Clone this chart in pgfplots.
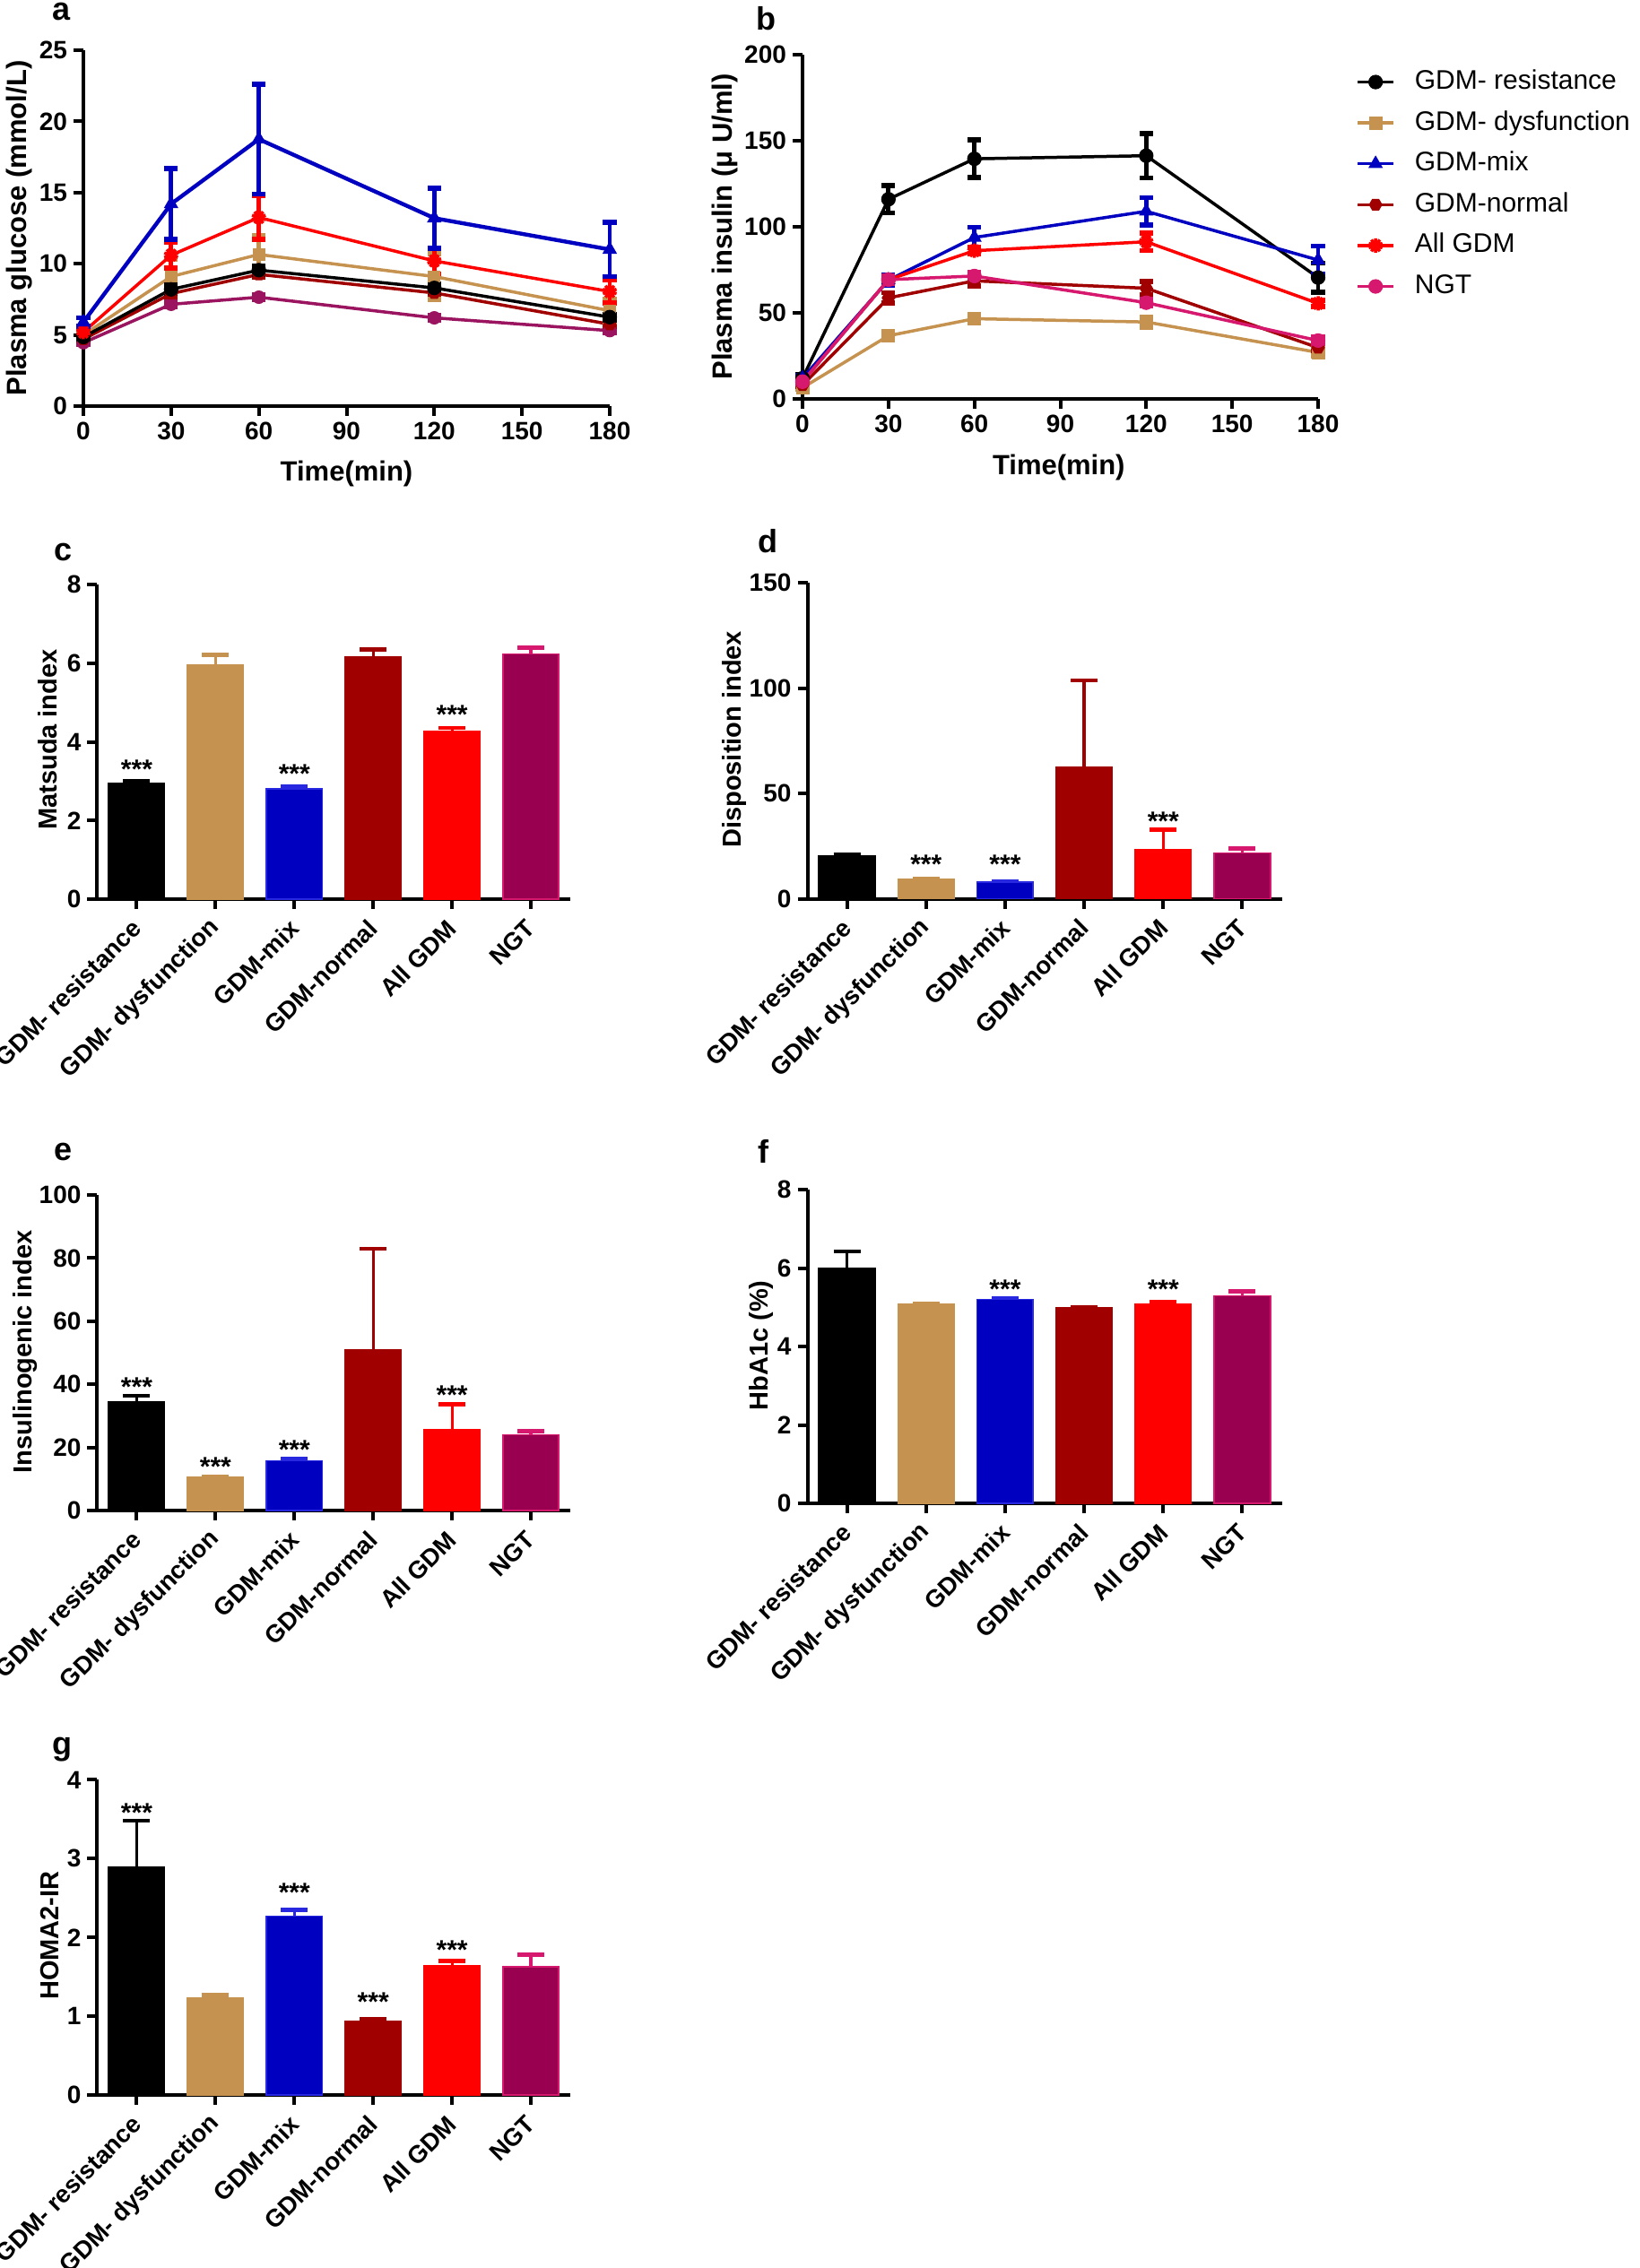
\documentclass[border=0pt]{standalone}
\usepackage{fontspec}
\setmainfont{Liberation Sans}
\usepackage{pgfplots}
\pgfplotsset{compat=1.18}

\definecolor{ctan}{RGB}{197,146,80}
\definecolor{cblue}{RGB}{0,0,192}
\definecolor{cblueedge}{RGB}{40,40,225}
\definecolor{cdred}{RGB}{160,0,0}
\definecolor{cred}{RGB}{255,0,0}
\definecolor{cngt}{RGB}{153,0,80}
\definecolor{cngtedge}{RGB}{214,24,110}
\definecolor{cngta}{RGB}{155,20,95}
\definecolor{cpink}{RGB}{214,24,110}

\pgfdeclareplotmark{hexagon*}{%
  \pgfpathmoveto{\pgfqpointpolar{0}{\pgfplotmarksize}}%
  \pgfpathlineto{\pgfqpointpolar{60}{\pgfplotmarksize}}%
  \pgfpathlineto{\pgfqpointpolar{120}{\pgfplotmarksize}}%
  \pgfpathlineto{\pgfqpointpolar{180}{\pgfplotmarksize}}%
  \pgfpathlineto{\pgfqpointpolar{240}{\pgfplotmarksize}}%
  \pgfpathlineto{\pgfqpointpolar{300}{\pgfplotmarksize}}%
  \pgfpathclose\pgfusepathqfillstroke}

\newcommand\tickfont{\fontsize{14}{16}\selectfont\bfseries}
\newcommand\ttlA{\fontsize{15.5}{18}\selectfont\bfseries}
\newcommand\ttlB{\fontsize{14.5}{17}\selectfont\bfseries}
\newcommand\catfont{\fontsize{13.75}{16}\selectfont\bfseries}
\newcommand\legfont{\fontsize{15}{18}\selectfont}
\newcommand\starfont{\fontsize{15}{17}\selectfont\bfseries}
\newcommand\pfont{\fontsize{18}{20}\selectfont\bfseries}

\pgfplotsset{
  base/.style={scale only axis, anchor=south west,
    axis x line*=bottom, axis y line*=left,
    axis line style={line width=2pt,-},
    every tick/.style={line width=2pt, black},
    major tick length=5.5pt, tick align=outside,
    tick label style={font=\tickfont},
    /pgf/number format/assume math mode=true,
    clip=false},
  linep/.style={base, xmin=0, xmax=180, xtick={0,30,...,180}, ymin=0,
    label style={font=\ttlA},
    every axis plot/.append style={line width=1.75pt, mark options={line width=0.5pt, solid}},
    error bars/y dir=both, error bars/y explicit,
    error bars/error bar style={line width=2.4pt},
    error bars/error mark options={line width=2.8pt, mark size=3.8pt, rotate=90}},
  barp/.style={base, xmin=-0.5, xmax=5.5, xtick={0,...,5},
    xticklabels={GDM- resistance, GDM- dysfunction, GDM-mix, GDM-normal, All GDM, NGT},
    xticklabel style={xshift=2.5pt, yshift=-6pt, rotate=45, anchor=east, font=\catfont},
    ymin=0, label style={font=\ttlB}},
}

\newcommand\mybar[5]{\addplot[ybar, bar width=0.71, bar shift=0pt, fill=#4, draw=#5, line width=0.8pt,
  error bars/.cd, y dir=plus, y explicit,
  error bar style={line width=1.6pt, color=#5},
  error mark options={line width=2.2pt, mark size=7.5pt, color=#5, rotate=90}]
  coordinates {(#1,#2) +- (0,#3)};}

\begin{document}
\begin{tikzpicture}
\path[use as bounding box] (0,0) rectangle (914pt,-1265pt);

% ---------- panel a ----------
\begin{axis}[linep, at={(46.5pt,-226.5pt)}, width=293.5pt, height=198.5pt,
  ymax=25, ytick={0,5,...,25},
  ylabel={Plasma glucose (mmol/L)}, ylabel style={at={(rel axis cs:-0.121,0.5)}, anchor=center},
  xlabel={Time(min)}, xlabel style={at={(rel axis cs:0.5,-0.189)}, anchor=center}]
\addplot[cngta, mark=*, mark size=3.5pt] coordinates {(0,4.45) +- (0,0.1) (30,7.15) +- (0,0.15) (60,7.65) +- (0,0.15) (120,6.2) +- (0,0.15) (180,5.3) +- (0,0.15)};
\addplot[cdred, mark=hexagon*, mark size=3.5pt] coordinates {(0,4.7) +- (0,0.1) (30,7.9) +- (0,0.2) (60,9.25) +- (0,0.2) (120,7.95) +- (0,0.2) (180,5.75) +- (0,0.15)};
\addplot[ctan, mark=square*, mark size=3.2pt] coordinates {(0,5.0) +- (0,0.2) (30,9.1) +- (0,1.2) (60,10.65) +- (0,1.3) (120,9.1) +- (0,1.6) (180,6.7) +- (0,0.8)};
\addplot[black, mark=*, mark size=3.8pt] coordinates {(0,4.85) +- (0,0.15) (30,8.2) +- (0,0.3) (60,9.55) +- (0,0.3) (120,8.3) +- (0,0.3) (180,6.25) +- (0,0.2)};
\addplot[cred, mark=10-pointed star, mark size=4pt, mark options={fill=cred}] coordinates {(0,5.2) +- (0,0.2) (30,10.6) +- (0,0.9) (60,13.25) +- (0,1.55) (120,10.2) +- (0,0.9) (180,8.05) +- (0,0.8)};
\addplot[cblue, line width=2.2pt, mark=triangle*, mark size=4.2pt] coordinates {(0,5.9) +- (0,0.3) (30,14.2) +- (0,2.5) (60,18.75) +- (0,3.85) (120,13.2) +- (0,2.1) (180,11.0) +- (0,1.9)};
\end{axis}

% ---------- panel b ----------
\begin{axis}[linep, at={(447.5pt,-222.5pt)}, width=287.5pt, height=192pt,
  ymax=200, ytick={0,50,...,200},
  ylabel={Plasma insulin (μ U/ml)}, ylabel style={at={(rel axis cs:-0.151,0.5)}, anchor=center},
  xlabel={Time(min)}, xlabel style={at={(rel axis cs:0.497,-0.198)}, anchor=center},
  legend style={at={(rel axis cs:1.073,0.958)}, anchor=north west, draw=none, fill=none,
    font=\legfont, inner sep=0pt, row sep=8.8pt, column sep=11pt,
    nodes={inner sep=0pt, text height=11pt, text depth=3pt}},
  legend cell align=left,
  legend image code/.code={\draw[mark repeat=2, mark phase=2] plot coordinates {(0pt,0pt)(10pt,0pt)(20pt,0pt)};}]
\addplot[black, mark=*, mark size=3.8pt] coordinates {(0,12) +- (0,2) (30,116) +- (0,8) (60,139.5) +- (0,11) (120,141.3) +- (0,13) (180,70.5) +- (0,8.5)};
\addplot[ctan, mark=square*, mark size=3.5pt] coordinates {(0,6.5) +- (0,1) (30,36.7) +- (0,2) (60,46.6) +- (0,2.5) (120,44.7) +- (0,3) (180,27) +- (0,2)};
\addplot[cblue, mark=triangle*, mark size=4.2pt] coordinates {(0,12) +- (0,1.5) (30,69) +- (0,3) (60,93.8) +- (0,6) (120,109) +- (0,8) (180,80.7) +- (0,8)};
\addplot[cdred, mark=hexagon*, mark size=3.5pt] coordinates {(0,8) +- (0,1) (30,58.7) +- (0,3) (60,68.6) +- (0,3) (120,64.3) +- (0,4) (180,29.8) +- (0,2)};
\addplot[cred, mark=10-pointed star, mark size=4pt, mark options={fill=cred}] coordinates {(0,10) +- (0,1) (30,69.3) +- (0,2) (60,86.1) +- (0,2) (120,91.3) +- (0,5) (180,55.5) +- (0,2)};
\addplot[cpink, mark=*, mark size=3.8pt] coordinates {(0,10) +- (0,1) (30,69.3) +- (0,2) (60,71.4) +- (0,2) (120,55.9) +- (0,2) (180,33.9) +- (0,2)};
\legend{GDM- resistance, GDM- dysfunction, GDM-mix, GDM-normal, All GDM, NGT}
\end{axis}

% ---------- panel c ----------
\begin{axis}[barp, at={(54.25pt,-501.5pt)}, width=263.75pt, height=175.5pt,
  ymax=8, ytick={0,2,...,8},
  ylabel={Matsuda index}, ylabel style={at={(rel axis cs:-0.105,0.507)}, anchor=center}]
\mybar{0}{2.94}{0.06}{black}{black}
\mybar{1}{5.95}{0.26}{ctan}{ctan}
\mybar{2}{2.81}{0.06}{cblue}{cblueedge}
\mybar{3}{6.15}{0.20}{cdred}{cdred}
\mybar{4}{4.26}{0.10}{cred}{cred}
\mybar{5}{6.23}{0.16}{cngt}{cngtedge}
\node[font=\starfont] at (axis cs:0,3.30) {***};
\node[font=\starfont] at (axis cs:2,3.19) {***};
\node[font=\starfont] at (axis cs:4,4.69) {***};
\end{axis}

% ---------- panel d ----------
\begin{axis}[barp, at={(450.25pt,-501.25pt)}, width=264.5pt, height=176.25pt,
  ymax=150, ytick={0,50,100,150},
  ylabel={Disposition index}, ylabel style={at={(rel axis cs:-0.154,0.504)}, anchor=center}]
\mybar{0}{20.1}{0.7}{black}{black}
\mybar{1}{9.1}{0.2}{ctan}{ctan}
\mybar{2}{7.9}{0.5}{cblue}{cblueedge}
\mybar{3}{62.3}{41.3}{cdred}{cdred}
\mybar{4}{23.1}{9.6}{cred}{cred}
\mybar{5}{21.7}{2.2}{cngt}{cngtedge}
\node[font=\starfont] at (axis cs:1,16.4) {***};
\node[font=\starfont] at (axis cs:2,16.4) {***};
\node[font=\starfont] at (axis cs:4,36.8) {***};
\end{axis}

% ---------- panel e ----------
\begin{axis}[barp, at={(54.25pt,-842.5pt)}, width=263.75pt, height=176pt,
  ymax=100, ytick={0,20,...,100},
  ylabel={Insulinogenic index}, ylabel style={at={(rel axis cs:-0.153,0.503)}, anchor=center}]
\mybar{0}{34.5}{1.8}{black}{black}
\mybar{1}{10.7}{0.1}{ctan}{ctan}
\mybar{2}{15.8}{0.7}{cblue}{cblueedge}
\mybar{3}{50.8}{32.1}{cdred}{cdred}
\mybar{4}{25.7}{8.0}{cred}{cred}
\mybar{5}{24.0}{1.2}{cngt}{cngtedge}
\node[font=\starfont] at (axis cs:0,39.1) {***};
\node[font=\starfont] at (axis cs:1,14.0) {***};
\node[font=\starfont] at (axis cs:2,19.3) {***};
\node[font=\starfont] at (axis cs:4,36.6) {***};
\end{axis}

% ---------- panel f ----------
\begin{axis}[barp, at={(450.25pt,-838.5pt)}, width=264.5pt, height=175pt,
  ymax=8, ytick={0,2,...,8},
  ylabel={HbA1c (\%)}, ylabel style={at={(rel axis cs:-0.097,0.503)}, anchor=center}]
\mybar{0}{6.0}{0.43}{black}{black}
\mybar{1}{5.07}{0.02}{ctan}{ctan}
\mybar{2}{5.2}{0.04}{cblue}{cblueedge}
\mybar{3}{4.99}{0.01}{cdred}{cdred}
\mybar{4}{5.09}{0.04}{cred}{cred}
\mybar{5}{5.29}{0.12}{cngt}{cngtedge}
\node[font=\starfont] at (axis cs:2,5.47) {***};
\node[font=\starfont] at (axis cs:4,5.47) {***};
\end{axis}

% ---------- panel g ----------
\begin{axis}[barp, at={(54.25pt,-1168.5pt)}, width=263.75pt, height=175.8pt,
  ymax=4, ytick={0,1,...,4},
  ylabel={HOMA2-IR}, ylabel style={at={(rel axis cs:-0.101,0.506)}, anchor=center}]
\mybar{0}{2.89}{0.59}{black}{black}
\mybar{1}{1.23}{0.04}{ctan}{ctan}
\mybar{2}{2.27}{0.08}{cblue}{cblueedge}
\mybar{3}{0.94}{0.03}{cdred}{cdred}
\mybar{4}{1.64}{0.06}{cred}{cred}
\mybar{5}{1.63}{0.15}{cngt}{cngtedge}
\node[font=\starfont] at (axis cs:0,3.58) {***};
\node[font=\starfont] at (axis cs:2,2.57) {***};
\node[font=\starfont] at (axis cs:3,1.18) {***};
\node[font=\starfont] at (axis cs:4,1.84) {***};
\end{axis}

% ---------- panel letters ----------
\node[font=\pfont, anchor=base west, inner sep=0pt] at (29pt,-11.5pt) {a};
\node[font=\pfont, anchor=base west, inner sep=0pt] at (421.75pt,-17pt) {b};
\node[font=\pfont, anchor=base west, inner sep=0pt] at (30pt,-312.5pt) {c};
\node[font=\pfont, anchor=base west, inner sep=0pt] at (422.5pt,-308pt) {d};
\node[font=\pfont, anchor=base west, inner sep=0pt] at (30pt,-647pt) {e};
\node[font=\pfont, anchor=base west, inner sep=0pt] at (422.5pt,-648.5pt) {f};
\node[font=\pfont, anchor=base west, inner sep=0pt] at (29pt,-978.5pt) {g};
\end{tikzpicture}
\end{document}
